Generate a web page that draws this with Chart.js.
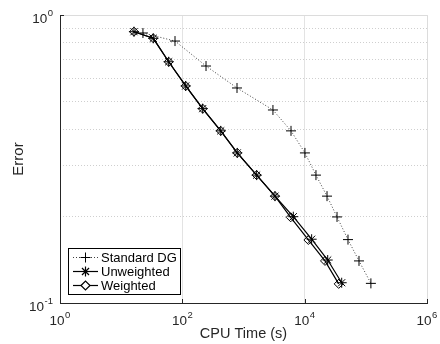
<!DOCTYPE html>
<html>
<head>
<meta charset="utf-8">
<script src="https://cdn.jsdelivr.net/npm/chart.js@4/dist/chart.umd.min.js"></script>
<style>
  html, body { margin: 0; padding: 0; background: #fff; }
  #wrap { width: 440px; height: 344px; }
</style>
</head>
<body>
<div id="wrap"><canvas id="chart"></canvas></div>
<script>
// ====== data ======
const dgTime   = [22.7, 75.9, 244, 783, 3030, 5980, 10100, 15300, 23200, 33800, 51100, 77300, 121000];
const dgError  = [0.866, 0.812, 0.665, 0.558, 0.468, 0.396, 0.332, 0.278, 0.235, 0.199, 0.166, 0.140, 0.117];
const unwTime  = [16.2, 33.5, 59.8, 113.5, 215, 424, 791, 1640, 3270, 6520, 13000, 23800, 40300];
const unwError = [0.875, 0.830, 0.688, 0.567, 0.473, 0.396, 0.332, 0.278, 0.235, 0.1994, 0.1665, 0.141, 0.1176];
const wTime    = [16.2, 33.5, 59.8, 113.5, 215, 424, 791, 1640, 3270, 5910, 11500, 21500, 36000];
const wError   = [0.875, 0.830, 0.688, 0.567, 0.473, 0.396, 0.332, 0.278, 0.235, 0.1984, 0.1655, 0.140, 0.1165];

const seriesNames = ['Standard DG', 'Unweighted', 'Weighted'];
const xTicks = [1, 100, 1e4, 1e6];
const xTickExp = ['0', '2', '4', '6'];
const yTicks = [0.1, 0.2, 0.3, 0.4, 0.5, 0.6, 0.7, 0.8, 0.9, 1];
const yMajor = [0.1, 1];
const yTickExp = ['-1', '0'];

const toPoints = (xs, ys) => xs.map((x, i) => ({ x: x, y: ys[i] }));

const FONT = '"Liberation Sans", Arial, Helvetica, sans-serif';
Chart.defaults.font.family = FONT;
Chart.defaults.font.size = 13;
Chart.defaults.color = '#262626';

// étiquette "10" + exposant, ancrée à droite ou centrée
function drawPow(ctx, exp, x, baseline, align) {
  ctx.font = '13.5px ' + FONT;
  const wBase = ctx.measureText('10').width;
  ctx.font = '9.5px ' + FONT;
  const wExp = ctx.measureText(exp).width;
  const total = wBase + wExp + 0.5;
  const left = align === 'right' ? x - total : x - total / 2;
  ctx.textAlign = 'left';
  ctx.textBaseline = 'alphabetic';
  ctx.font = '13.5px ' + FONT;
  ctx.fillText('10', left, baseline);
  ctx.font = '9.5px ' + FONT;
  ctx.fillText(exp, left + wBase + 0.5, baseline - 7);
}

// cadre + petits traits + étiquettes + légende dans le graphique
const framePlugin = {
  id: 'frame',
  afterDraw(chart) {
    const ctx = chart.ctx;
    const a = chart.chartArea;
    const xs = chart.scales.x, ys = chart.scales.y;
    ctx.save();
    ctx.lineWidth = 1;
    // haut et droite clairs
    ctx.strokeStyle = '#dcdcdc';
    ctx.beginPath();
    ctx.moveTo(a.left, a.top + 0.5); ctx.lineTo(a.right + 0.5, a.top + 0.5);
    ctx.lineTo(a.right + 0.5, a.bottom);
    ctx.stroke();
    // axes gauche et bas foncés
    ctx.strokeStyle = '#262626';
    ctx.beginPath();
    ctx.moveTo(a.left + 0.5, a.top); ctx.lineTo(a.left + 0.5, a.bottom + 0.5);
    ctx.lineTo(a.right + 1, a.bottom + 0.5);
    ctx.stroke();
    // traits de graduation vers l'intérieur
    ctx.beginPath();
    xTicks.forEach(v => {
      const px = Math.round(xs.getPixelForValue(v)) + 0.5;
      ctx.moveTo(px, a.bottom); ctx.lineTo(px, a.bottom - 4);
    });
    yMajor.forEach(v => {
      const py = Math.round(ys.getPixelForValue(v)) + 0.5;
      ctx.moveTo(a.left, py); ctx.lineTo(a.left + 4, py);
    });
    ctx.stroke();

    // étiquettes des graduations
    ctx.fillStyle = '#262626';
    xTicks.forEach((v, i) => {
      drawPow(ctx, xTickExp[i], xs.getPixelForValue(v), a.bottom + 21.5, 'center');
    });
    yMajor.forEach((v, i) => {
      drawPow(ctx, yTickExp[i], a.left - 7, ys.getPixelForValue(v) + 7.5, 'right');
    });

    // légende
    const x0 = 68, y0 = 248, w = 112, h = 46;
    ctx.fillStyle = '#fff';
    ctx.fillRect(x0, y0, w, h);
    ctx.strokeStyle = '#000';
    ctx.strokeRect(x0 + 0.5, y0 + 0.5, w, h);
    ctx.font = '13px ' + FONT;
    ctx.textAlign = 'left';
    ctx.textBaseline = 'middle';
    chart.data.datasets.forEach((ds, i) => {
      const y = y0 + 9.5 + i * 14;
      ctx.strokeStyle = ds.borderColor;
      ctx.lineWidth = ds.borderWidth;
      ctx.setLineDash(ds.borderDash || []);
      ctx.beginPath();
      ctx.moveTo(x0 + 5, y); ctx.lineTo(x0 + 30, y);
      ctx.stroke();
      ctx.setLineDash([]);
      ctx.strokeStyle = '#000';
      ctx.fillStyle = '#fff';
      Chart.helpers.drawPoint(ctx, {
        pointStyle: ds.pointStyle, radius: ds.pointRadius, borderWidth: 1, rotation: 0
      }, x0 + 17.5, y);
      ctx.fillStyle = '#000';
      ctx.fillText(ds.label, x0 + 33, y + 1);
    });
    ctx.restore();
  }
};

new Chart(document.getElementById('chart'), {
  type: 'scatter',
  data: {
    datasets: [
      {
        label: seriesNames[0],
        data: toPoints(dgTime, dgError),
        showLine: true,
        borderColor: 'rgba(0,0,0,0.75)',
        borderWidth: 1,
        borderDash: [1, 2],
        pointStyle: 'cross',
        pointRadius: 5,
        pointBorderColor: '#000',
        pointBorderWidth: 1,
        pointBackgroundColor: 'rgba(0,0,0,0)'
      },
      {
        label: seriesNames[1],
        data: toPoints(unwTime, unwError),
        showLine: true,
        borderColor: '#000',
        borderWidth: 1.2,
        pointStyle: 'star',
        pointRadius: 5,
        pointBorderColor: '#000',
        pointBorderWidth: 1,
        pointBackgroundColor: 'rgba(0,0,0,0)'
      },
      {
        label: seriesNames[2],
        data: toPoints(wTime, wError),
        showLine: true,
        borderColor: '#000',
        borderWidth: 1.2,
        pointStyle: 'rectRot',
        pointRadius: 4.5,
        pointBorderColor: '#000',
        pointBorderWidth: 1,
        pointBackgroundColor: 'rgba(0,0,0,0)'
      }
    ]
  },
  options: {
    responsive: true,
    maintainAspectRatio: false,
    animation: false,
    layout: { padding: { top: 15, right: 13, left: 0, bottom: 0 } },
    plugins: {
      legend: { display: false },
      tooltip: { enabled: false }
    },
    scales: {
      x: {
        type: 'logarithmic',
        min: 1,
        max: 1e6,
        afterFit: s => { s.height = 41; },
        afterBuildTicks: s => { s.ticks = xTicks.map(v => ({ value: v })); },
        ticks: { display: false, autoSkip: false },
        grid: { color: '#e3e3e3', lineWidth: 1, drawTicks: false },
        border: { display: false },
        title: {
          display: true, text: 'CPU Time (s)', color: '#262626',
          font: { size: 14.5 }, padding: { top: 0, bottom: 1 }
        }
      },
      y: {
        type: 'logarithmic',
        min: 0.1,
        max: 1,
        afterFit: s => { s.width = 60; },
        afterBuildTicks: s => { s.ticks = yTicks.map(v => ({ value: v })); },
        ticks: { display: false, autoSkip: false },
        grid: { color: '#cfcfcf', lineWidth: 1, drawTicks: false },
        border: {
          display: false,
          dash: (c) => (c.tick && yMajor.some(m => Math.abs(m - c.tick.value) < 1e-9)) ? [] : [1, 2]
        },
        title: {
          display: true, text: 'Error', color: '#262626',
          font: { size: 15 }, padding: { top: 10, bottom: 0 }
        }
      }
    }
  },
  plugins: [framePlugin]
});
</script>
</body>
</html>
